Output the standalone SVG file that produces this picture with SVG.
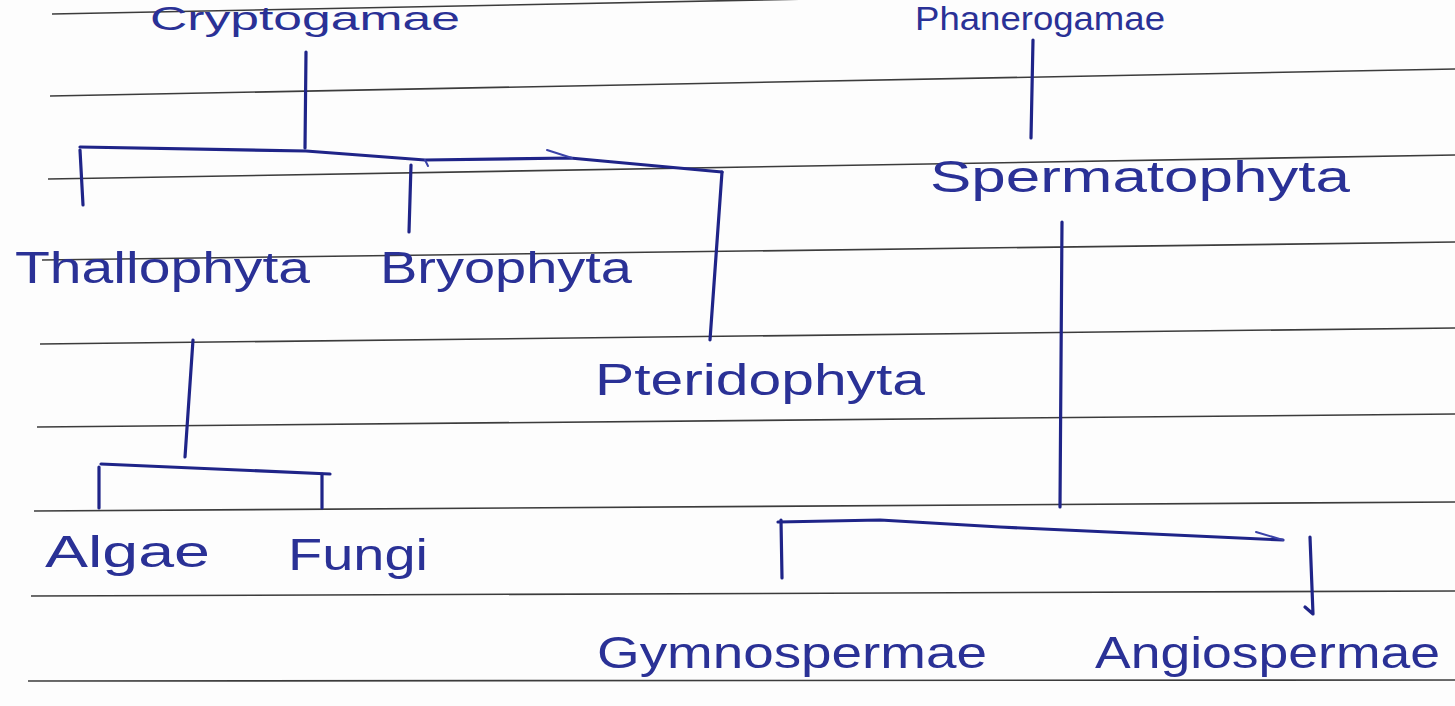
<svg xmlns="http://www.w3.org/2000/svg" width="1455" height="706" viewBox="0 0 1455 706">
  <style>
    .rule { stroke: #3c3c3c; stroke-width: 1.6; fill: none; }
    .ink { stroke: #1f2488; stroke-width: 3.2; fill: none; stroke-linecap: round; stroke-linejoin: round; }
    .ink-thin { stroke: #3a42a8; stroke-width: 2; fill: none; stroke-linecap: round; }
    .label { font-family: "Liberation Sans", "DejaVu Sans", sans-serif; font-size: 44px; fill: #2a3196; }
    .label-top { font-size: 34px; }
  </style>

  <rect width="1455" height="706" fill="#fdfdfd"/>

  <!-- ruled notebook lines -->
  <g id="ruled-lines">
    <line class="rule" x1="52" y1="14" x2="860" y2="-2"/>
    <line class="rule" x1="50" y1="96" x2="1455" y2="69"/>
    <line class="rule" x1="48" y1="179" x2="1455" y2="155"/>
    <line class="rule" x1="42" y1="260" x2="1455" y2="242"/>
    <line class="rule" x1="40" y1="344" x2="1455" y2="328"/>
    <line class="rule" x1="37" y1="427" x2="1455" y2="414"/>
    <line class="rule" x1="34" y1="511" x2="1455" y2="502"/>
    <line class="rule" x1="31" y1="596" x2="1455" y2="591"/>
    <line class="rule" x1="28" y1="681" x2="1455" y2="680"/>
  </g>

  <!-- branching strokes -->
  <g id="connectors">
    <!-- Cryptogamae branch -->
    <path class="ink" d="M306 52 L305 148"/>
    <path class="ink" d="M80 147 L306 151 L425 160 L570 158 L722 172"/>
    <path class="ink-thin" d="M547 150 L572 158"/>
    <path class="ink-thin" d="M425 160 L428 166"/>
    <path class="ink" d="M80 150 L83 205"/>
    <path class="ink" d="M411 165 L409 232"/>
    <path class="ink" d="M722 172 L710 340"/>

    <!-- Thallophyta branch -->
    <path class="ink" d="M193 340 L185 457"/>
    <path class="ink" d="M101 464 L330 474"/>
    <path class="ink" d="M99 467 L99 508"/>
    <path class="ink" d="M322 474 L322 508"/>

    <!-- Phanerogamae branch -->
    <path class="ink" d="M1033 40 L1031 138"/>
    <path class="ink" d="M1062 222 L1060 507"/>
    <path class="ink" d="M778 522 L880 520 L1000 527 L1283 540"/>
    <path class="ink-thin" d="M1256 532 L1283 540"/>
    <path class="ink" d="M781 520 L782 578"/>
    <path class="ink" d="M1310 537 L1313 614 L1305 607"/>
  </g>

  <!-- taxon labels -->
  <g id="node-cryptogamae"><text class="label label-top" x="150" y="30" textLength="310" lengthAdjust="spacingAndGlyphs">Cryptogamae</text></g>
  <g id="node-phanerogamae"><text class="label label-top" x="915" y="30" textLength="250" lengthAdjust="spacingAndGlyphs">Phanerogamae</text></g>
  <g id="node-thallophyta"><text class="label" x="15" y="283" textLength="295" lengthAdjust="spacingAndGlyphs">Thallophyta</text></g>
  <g id="node-bryophyta"><text class="label" x="380" y="283" textLength="252" lengthAdjust="spacingAndGlyphs">Bryophyta</text></g>
  <g id="node-pteridophyta"><text class="label" x="595" y="395" textLength="330" lengthAdjust="spacingAndGlyphs">Pteridophyta</text></g>
  <g id="node-spermatophyta"><text class="label" x="930" y="192" textLength="420" lengthAdjust="spacingAndGlyphs">Spermatophyta</text></g>
  <g id="node-algae"><text class="label" x="45" y="567" textLength="165" lengthAdjust="spacingAndGlyphs">Algae</text></g>
  <g id="node-fungi"><text class="label" x="288" y="570" textLength="140" lengthAdjust="spacingAndGlyphs">Fungi</text></g>
  <g id="node-gymnospermae"><text class="label" x="597" y="668" textLength="390" lengthAdjust="spacingAndGlyphs">Gymnospermae</text></g>
  <g id="node-angiospermae"><text class="label" x="1095" y="668" textLength="345" lengthAdjust="spacingAndGlyphs">Angiospermae</text></g>
</svg>
